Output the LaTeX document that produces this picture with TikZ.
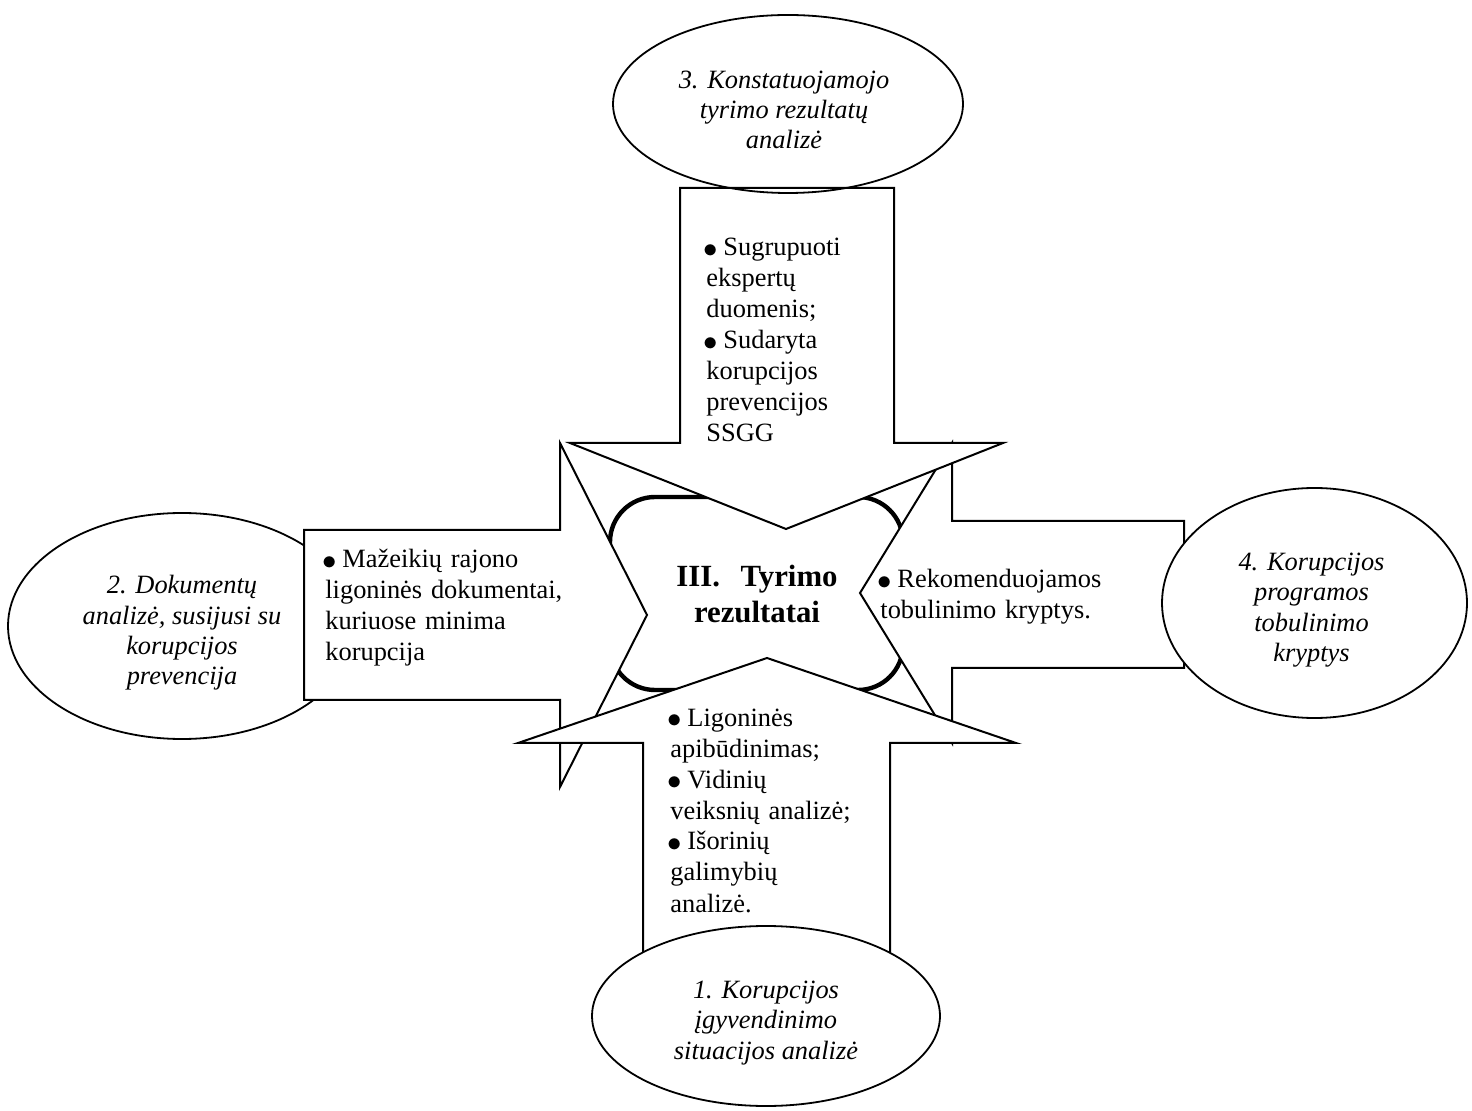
\documentclass[tikz,border=0pt]{standalone}
\usepackage{fontspec}
\setmainfont{Liberation Serif}
\usetikzlibrary{shapes.geometric}
\newcommand\blt{\hspace{-0.12em}\raisebox{-0.05em}{\scalebox{1.2}{$\bullet$}}\hspace{0.22em}}
\begin{document}
\begin{tikzpicture}[x=0.5pt,y=-0.5pt,
  bodyfont/.style={font=\fontsize{13.2pt}{15.5pt}\selectfont},
  armshape/.style={draw=black, line width=1pt, fill=white, line join=miter},
  oval/.style={ellipse, draw=black, line width=0.9pt, inner sep=0pt},
  ovaltext/.style={inner sep=0pt, align=center, font=\fontsize{13.2pt}{15.2pt}\selectfont\itshape},
  armtext/.style={anchor=base west, inner sep=0pt, align=left, text width=#1, bodyfont},
  core/.style={draw=black, line width=2.2pt, fill=white, rounded corners=22.5pt, inner sep=0pt},
]
\useasboundingbox (0,0) rectangle (1472,1111);

% central block
\node[core, minimum width=146.5pt, minimum height=96.5pt] (core) at (756.5,593.5) {};

% step 2 (left) - oval under its arrow
\node[oval, fill=white, minimum width=174pt, minimum height=113pt] (docs) at (182,626) {};
\node[ovaltext] (docs-t) at ([yshift=-3.5pt]docs.center)
  {2. Dokumentų\\analizė, susijusi su\\korupcijos\\prevencija};

% right arrow, then its oval on top
\draw[armshape] (1184,521) -- (952,521) -- (952,443) -- (860,593) -- (952,743)
  -- (952,668) -- (1184,668) -- cycle;
\node[oval, fill=white, minimum width=152.5pt, minimum height=115pt] (dirs) at (1314.5,603) {};
\node[ovaltext] (dirs-t) at ([xshift=-1.5pt,yshift=-3.5pt]dirs.center)
  {4. Korupcijos\\programos\\tobulinimo\\kryptys};

% left arrow
\draw[armshape] (304,530) -- (560,530) -- (560,443) -- (647,615) -- (560,787)
  -- (560,700) -- (304,700) -- cycle;

% top arrow, its oval outline drawn over the shaft end
\draw[armshape] (680,188) -- (894,188) -- (894,443) -- (1003,443) -- (786,529)
  -- (570,443) -- (680,443) -- cycle;
\node[oval, minimum width=175pt, minimum height=89pt] (survey) at (788,104) {};
\node[ovaltext] (survey-t) at ([xshift=-2pt,yshift=-3pt]survey.center)
  {3. Konstatuojamojo\\tyrimo rezultatų\\analizė};

% bottom arrow, then its oval on top
\draw[armshape] (643,960) -- (643,743) -- (518,743) -- (767,658) -- (1016,743)
  -- (890,743) -- (890,960) -- cycle;
\node[oval, fill=white, minimum width=174pt, minimum height=90pt] (situation) at (766,1016) {};
\node[ovaltext] (situation-t) at ([yshift=-3.5pt]situation.center)
  {1. Korupcijos\\įgyvendinimo\\situacijos analizė};

% texts inside the arrows
\node[armtext=110pt] (ttop) at (706,256)
  {\blt Sugrupuoti\\ekspertų\\duomenis;\\\blt Sudaryta\\korupcijos\\prevencijos\\SSGG};
\node[armtext=140pt] (tleft) at (325,567.7)
  {\blt Mažeikių rajono\\ligoninės dokumentai,\\kuriuose minima\\korupcija};
\node[armtext=140pt] (tright) at (880,588)
  {\blt Rekomenduojamos\\tobulinimo kryptys.};
\node[armtext=120pt] (tbottom) at (670,726)
  {\blt Ligoninės\\apibūdinimas;\\\blt Vidinių\\veiksnių analizė;\\\blt Išorinių\\galimybių\\analizė.};

% title of the central block
\node[anchor=base, inner sep=0pt, align=center, text width=110pt,
  font=\fontsize{15.4pt}{18pt}\selectfont\bfseries] (title) at (757,586.7)
  {III.\ \ Tyrimo\\rezultatai};
\end{tikzpicture}
\end{document}
